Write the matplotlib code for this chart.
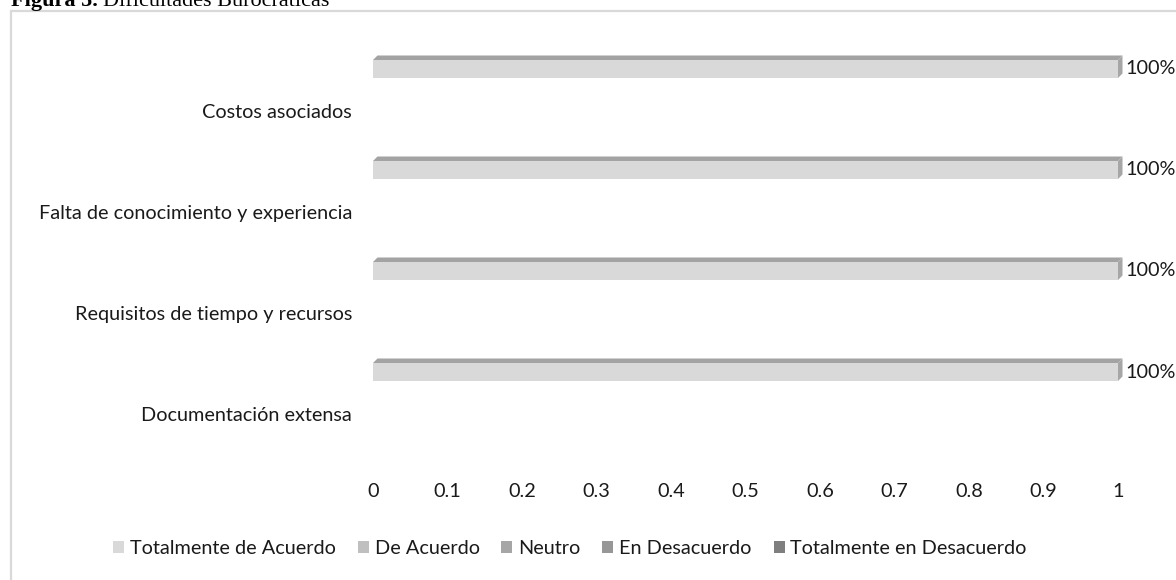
import matplotlib.pyplot as plt
from matplotlib.patches import Polygon, Rectangle, Patch

# Datos
categorias = ["Documentación extensa", "Requisitos de tiempo y recursos",
              "Falta de conocimiento y experiencia", "Costos asociados"]
series = ["Totalmente de Acuerdo", "De Acuerdo", "Neutro",
          "En Desacuerdo", "Totalmente en Desacuerdo"]
tot_acuerdo = [1.0, 1.0, 1.0, 1.0]
de_acuerdo = [0.0, 0.0, 0.0, 0.0]
neutro = [0.0, 0.0, 0.0, 0.0]
en_desacuerdo = [0.0, 0.0, 0.0, 0.0]
tot_desacuerdo = [0.0, 0.0, 0.0, 0.0]
valores = [tot_acuerdo, de_acuerdo, neutro, en_desacuerdo, tot_desacuerdo]
xticks = [0, 0.1, 0.2, 0.3, 0.4, 0.5, 0.6, 0.7, 0.8, 0.9, 1]

colores = ["#d9d9d9", "#bfbfbf", "#a6a6a6", "#979797", "#7f7f7f"]
tapa = "#a3a3a3"
lado = "#a6a6a6"
texto = "#1a1a1a"

W, H = 1176, 580
plt.rcParams["font.family"] = ["Lato", "DejaVu Sans"]
fs = 14.3

fig = plt.figure(figsize=(W / 100, H / 100), dpi=100)

# marco gris del gráfico
fig.patches.append(Rectangle((10.5 / W, -0.2), 1.2, 1.2 - 10.5 / H,
                             transform=fig.transFigure, fill=False,
                             edgecolor="#d9d9d9", linewidth=1.6))

# ejes en píxeles: x 0 -> 373, 1 -> 1118; categorías cada 101 px
x0, x1 = 373, 1118
y_bot, y_top = 472, 40
ax = fig.add_axes([x0 / W, 1 - y_bot / H, (x1 - x0) / W, (y_bot - y_top) / H])
paso = 101
y_doc = 414
ax.set_xlim(0, 1)
ax.set_ylim(-(y_bot - y_doc) / paso, 3 + (y_doc - 3 * paso - y_top) / paso)
for s in ax.spines.values():
    s.set_visible(False)

ax.set_xticks(xticks)
ax.set_xticklabels([f"{t:g}" for t in xticks], fontsize=fs, color=texto)
ax.tick_params(axis="x", length=0, pad=8)
ax.set_yticks(range(len(categorias)))
ax.set_yticklabels(categorias, fontsize=fs, color=texto)
ax.tick_params(axis="y", length=0, pad=15)

# barras con efecto 3D
desplaz = 42 / paso
alto = 18 / paso
dx = 4.5 / (x1 - x0)
dy = 4.5 / paso
for i, vals in enumerate(valores):
    for j, v in enumerate(vals):
        if v <= 0:
            continue
        yc = j + desplaz
        yb, yt = yc - alto / 2, yc + alto / 2
        ax.add_patch(Rectangle((0, yb), v, alto, facecolor=colores[i],
                               edgecolor="none", clip_on=False))
        ax.add_patch(Polygon([(0, yt), (v, yt), (v + dx, yt + dy), (dx, yt + dy)],
                             closed=True, facecolor=tapa, edgecolor="none",
                             clip_on=False))
        ax.add_patch(Polygon([(v, yb), (v + dx, yb + dy), (v + dx, yt + dy), (v, yt)],
                             closed=True, facecolor=lado, edgecolor="none",
                             clip_on=False))
        ax.text(v + dx + 0.004, yc, f"{v:.0%}", fontsize=fs, va="center",
                ha="left", color=texto, clip_on=False)

# leyenda
handles = [Patch(facecolor=c, edgecolor="none") for c in colores]
fig.legend(handles, series, loc="center", ncol=5, frameon=False,
           bbox_to_anchor=(570 / W, 1 - 549 / H), fontsize=fs,
           handlelength=0.55, handleheight=0.55, handletextpad=0.3,
           columnspacing=1.1, labelcolor=texto)

# título (cortado por el borde superior)
t1 = fig.text(11 / W, 1 - 6 / H, "Figura 5.", fontfamily="Liberation Serif",
              fontweight="bold", fontsize=16, va="baseline", ha="left")
fig.canvas.draw()
bb = t1.get_window_extent(fig.canvas.get_renderer())
fig.text(bb.x1 / W + 5 / W, 1 - 6 / H, "Dificultades Burocráticas",
         fontfamily="Liberation Serif", fontsize=16, va="baseline", ha="left")

fig.savefig("out.png", dpi=100)
